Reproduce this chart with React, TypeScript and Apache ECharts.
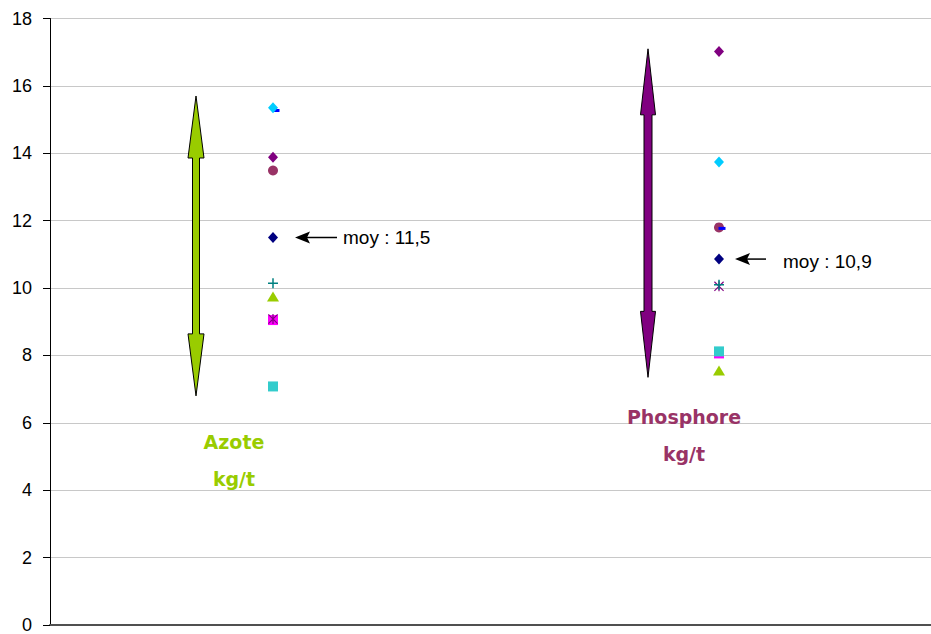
import React, { useEffect, useRef } from "react";
import * as echarts from "echarts";

const categories = ["Azote", "Phosphore"];

const navyDiamond = [11.5, 10.86];
const magentaSquare = [9.05, 8.06];
const greenTriangle = [9.75, 7.55];
const purpleStar = [9.08, 10.05];
const maroonCircle = [13.49, 11.8];
const tealPlus = [10.14, 10.1];
const blueDash = [15.3, 11.8];
const purpleDiamond = [13.88, 17.02];
const cyanDiamond = [15.35, 13.74];
const turquoiseSquare = [7.08, 8.12];

const arrowRanges = [
  [6.8, 15.7],
  [7.35, 17.1],
];
const meanPoints = [11.5, 10.86];
const meanLabels = ["moy : 11,5", "moy : 10,9"];
const categoryLabels = ["Azote\nkg/t", "Phosphore\nkg/t"];

const PLUS = "path://M4.25,0 H5.75 V4.25 H10 V5.75 H5.75 V10 H4.25 V5.75 H0 V4.25 H4.25 Z";
const STAR =
  "path://M4.4,0 H5.6 V10 H4.4 Z M0,0.8 L0.8,0 L10,9.2 L9.2,10 Z M9.2,0 L10,0.8 L0.8,10 L0,9.2 Z";
const DASH = "path://M0,0 H7 V3 H0 Z";

export default function App() {
  const ref = useRef<HTMLDivElement>(null);
  useEffect(() => {
    if (!ref.current) return;
    const chart = echarts.init(ref.current, null, { renderer: "svg" });
    const mk = (name: string, data: number[], symbol: string, color: string, size: any, extra: any = {}) => ({
      name,
      type: "scatter",
      data,
      symbol,
      symbolSize: size,
      itemStyle: { color, opacity: 1 },
      emphasis: { disabled: true },
      ...extra,
    });
    chart.setOption({
      animation: false,
      grid: { left: 50, top: 18.5, width: 892, height: 608.5, containLabel: false },
      xAxis: {
        type: "category",
        data: categories,
        boundaryGap: true,
        axisLabel: { show: false },
        axisTick: { show: false },
        axisLine: { lineStyle: { color: "#505050", width: 2 } },
        splitLine: { show: false },
      },
      yAxis: {
        type: "value",
        min: 0,
        max: 18,
        interval: 2,
        axisLine: { show: true, lineStyle: { color: "#000", width: 1 } },
        axisTick: { show: true, length: 7, lineStyle: { color: "#000" } },
        axisLabel: { color: "#000", fontFamily: "Liberation Sans", fontSize: 18, margin: 18 },
        splitLine: { lineStyle: { color: "#c8c8c8", width: 1 } },
      },
      series: [
        mk("navy", navyDiamond, "diamond", "#000080", [10, 11]),
        mk("magenta", magentaSquare, "rect", "#FF00FF", 10),
        mk("triangle", greenTriangle, "triangle", "#99CC00", [12, 10]),
        mk("star", purpleStar, STAR, "#800080", 10),
        mk("circle", maroonCircle, "circle", "#993366", 10),
        mk("plus", tealPlus, PLUS, "#008080", 10),
        mk("dash", blueDash, DASH, "#0000FF", [7, 3], { symbolOffset: [3, 1] }),
        mk("purpleDiamond", purpleDiamond, "diamond", "#800080", [10, 11]),
        mk("cyanDiamond", cyanDiamond, "diamond", "#00CCFF", [10, 11]),
        mk("turquoise", turquoiseSquare, "rect", "#33CCCC", 10),
      ],
    });

    const px = (i: number, v: number) => chart.convertToPixel({ gridIndex: 0 } as any, [i, v]) as number[];
    const bigArrow = (cx: number, yT: number, yB: number, sw: number, hw: number, hl: number, color: string) => ({
      type: "polygon",
      shape: {
        points: [
          [cx, yT],
          [cx + hw, yT + hl],
          [cx + sw, yT + hl],
          [cx + sw, yB - hl],
          [cx + hw, yB - hl],
          [cx, yB],
          [cx - hw, yB - hl],
          [cx - sw, yB - hl],
          [cx - sw, yT + hl],
          [cx - hw, yT + hl],
        ],
      },
      style: { fill: color, stroke: "#000", lineWidth: 1 },
      z: 10,
    });
    const arrowCfg = [
      { dx: -77, sw: 3.5, hw: 8, hl: 62, color: "#99CC00" },
      { dx: -71, sw: 4, hw: 7.5, hl: 66, color: "#800080" },
    ];
    const meanCfg = [
      { x1: 22, x2: 64, tx: 70, ty: 0 },
      { x1: 16, x2: 47, tx: 64, ty: 2 },
    ];
    const labelCfg = [
      { dx: -39, y: 441, color: "#99CC00" },
      { dx: -35, y: 416, color: "#993366" },
    ];
    const graphics: any[] = [];
    categories.forEach((_, i) => {
      const top = px(i, arrowRanges[i][1]);
      const bot = px(i, arrowRanges[i][0]);
      const a = arrowCfg[i];
      graphics.push(bigArrow(top[0] + a.dx, top[1], bot[1], a.sw, a.hw, a.hl, a.color));
      const m = px(i, meanPoints[i]);
      const mc = meanCfg[i];
      graphics.push({
        type: "line",
        shape: { x1: m[0] + mc.x1 + 8, y1: m[1], x2: m[0] + mc.x2, y2: m[1] },
        style: { stroke: "#000", lineWidth: 1.5 },
        z: 10,
      });
      graphics.push({
        type: "polygon",
        shape: {
          points: [
            [m[0] + mc.x1, m[1]],
            [m[0] + mc.x1 + 15, m[1] - 6],
            [m[0] + mc.x1 + 12, m[1]],
            [m[0] + mc.x1 + 15, m[1] + 6],
          ],
        },
        style: { fill: "#000" },
        z: 10,
      });
      graphics.push({
        type: "text",
        x: m[0] + mc.tx,
        y: m[1] + mc.ty,
        style: {
          text: meanLabels[i],
          fill: "#000",
          font: "19px 'Liberation Sans'",
          textAlign: "left",
          textVerticalAlign: "middle",
        },
        z: 10,
      });
      const l = labelCfg[i];
      graphics.push({
        type: "text",
        x: m[0] + l.dx,
        y: l.y - 18,
        style: {
          text: categoryLabels[i],
          fill: l.color,
          font: "bold 19px 'DejaVu Sans'",
          textAlign: "center",
          textVerticalAlign: "top",
          lineHeight: 37,
        },
        z: 10,
      });
    });
    chart.setOption({ graphic: graphics });
    return () => chart.dispose();
  }, []);
  return (
    <div style={{ position: "absolute", left: 0, top: 0, width: 931, height: 634, overflow: "hidden" }}>
      <div ref={ref} style={{ width: 945, height: 634 }} />
    </div>
  );
}
